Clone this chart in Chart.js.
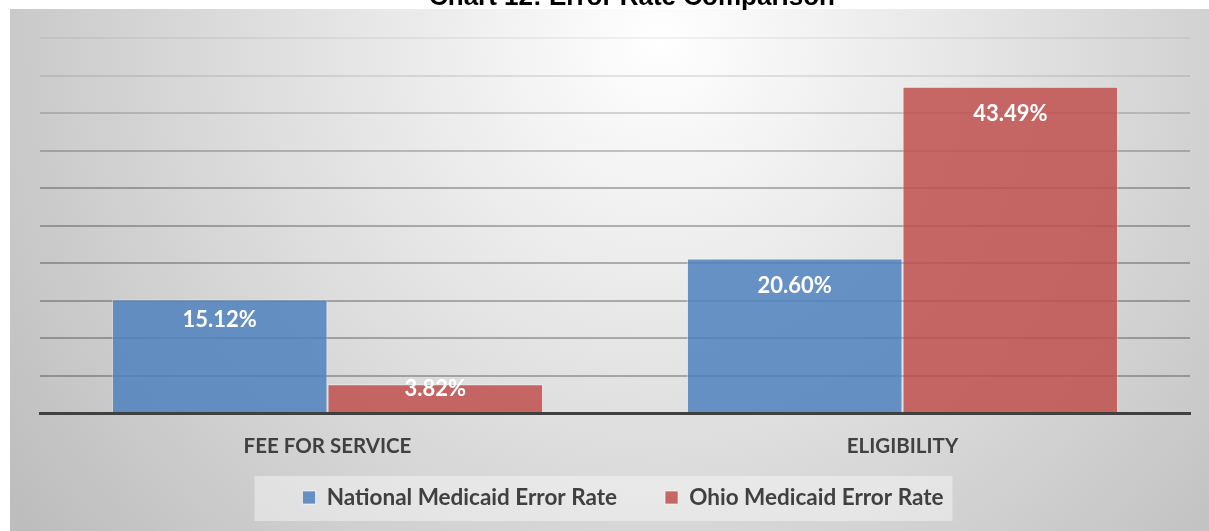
<!DOCTYPE html>
<html>
<head>
<meta charset="utf-8">
<script src="https://cdn.jsdelivr.net/npm/chart.js@4.4.1/dist/chart.umd.min.js"></script>
<style>
  html, body { margin: 0; padding: 0; background: #ffffff; overflow: hidden; }
  #wrap { position: relative; width: 1209px; height: 531px; }
  #title { position: absolute; left: 429px; top: -17px; font: bold 26px "Liberation Sans", Arial, sans-serif; line-height: 26px; color: #000; white-space: nowrap; z-index: 2; }
  canvas { position: absolute; left: 0; top: 0; }
</style>
</head>
<body>
<div id="wrap">
  <canvas id="c" width="1209" height="531"></canvas>
  <div id="title">Chart 12: Error Rate Comparison</div>
</div>
<script>
// ---- data ----
const categories = ["FEE FOR SERVICE", "ELIGIBILITY"];
const seriesNames = ["National Medicaid Error Rate", "Ohio Medicaid Error Rate"];
const nationalRates = [15.12, 20.60];
const ohioRates = [3.82, 43.49];
const axisMin = 0;
const axisMax = 50;
const axisStep = 5;

const FONT = "Lato, 'Open Sans', sans-serif";
const LEGEND_PAD = 48;
const LEGEND_FONT = 22.5;

const bgPlugin = {
  id: 'bg',
  afterLayout(chart) {
    const lg = chart.legend;
    if (!lg) return;
    const top = 497.5 - LEGEND_PAD - LEGEND_FONT / 2;
    const h = LEGEND_FONT + LEGEND_PAD + 10;
    lg.top = top; lg.height = h; lg.bottom = top + h;
    lg.left += 8; lg.right += 8;
  },
  beforeDraw(chart) {
    const ctx = chart.ctx;
    const W = chart.width, H = chart.height;
    ctx.save();
    ctx.fillStyle = '#ffffff';
    ctx.fillRect(0, 0, W, H);
    const g = ctx.createRadialGradient(660, 40, 0, 660, 40, 800);
    g.addColorStop(0, '#ffffff');
    g.addColorStop(1, '#bdbdbd');
    ctx.fillStyle = g;
    ctx.fillRect(10, 9, W - 10, H - 9);
    // legend panel
    const lg = chart.legend;
    if (lg && lg.legendHitBoxes && lg.legendHitBoxes.length) {
      const hb = lg.legendHitBoxes;
      const first = hb[0], last = hb[hb.length - 1];
      const left = first.left - 48;
      const right = last.left + last.width + 9;
      const cy = first.top + first.height / 2;
      ctx.fillStyle = 'rgba(255,255,255,0.4)';
      ctx.fillRect(left, cy - 21.5, right - left, 45);
    }
    ctx.restore();
  }
};

const labelPlugin = {
  id: 'barLabels',
  afterDatasetsDraw(chart) {
    const ctx = chart.ctx;
    ctx.save();
    ctx.fillStyle = '#ffffff';
    ctx.font = "bold 22px " + FONT;
    ctx.textAlign = 'center';
    ctx.textBaseline = 'middle';
    chart.data.datasets.forEach((ds, di) => {
      const meta = chart.getDatasetMeta(di);
      meta.data.forEach((bar, i) => {
        const h = bar.base - bar.y;
        const off = Math.min(27, h * 0.18);
        ctx.fillText(ds.data[i].toFixed(2) + '%', bar.x, bar.y + off);
      });
    });
    ctx.restore();
  }
};

function gridColor(ctx) {
  const v = ctx.tick ? ctx.tick.value : 0;
  if (v === 0) return 'rgba(0,0,0,0)';
  if (v >= 50) return 'rgba(0,0,0,0.05)';
  if (v >= 45) return 'rgba(0,0,0,0.09)';
  if (v >= 40) return 'rgba(0,0,0,0.15)';
  if (v >= 35) return 'rgba(0,0,0,0.21)';
  return 'rgba(0,0,0,0.27)';
}

new Chart(document.getElementById('c'), {
  type: 'bar',
  data: {
    labels: categories,
    datasets: [
      {
        label: seriesNames[0],
        data: nationalRates,
        backgroundColor: 'rgba(79,129,189,0.85)',
        borderColor: 'rgba(255,255,255,0.45)',
        borderWidth: 1
      },
      {
        label: seriesNames[1],
        data: ohioRates,
        backgroundColor: 'rgba(192,80,77,0.85)',
        borderColor: 'rgba(255,255,255,0.45)',
        borderWidth: 1
      }
    ]
  },
  options: {
    responsive: false,
    animation: false,
    devicePixelRatio: 1,
    layout: { padding: { left: 40, right: 19, top: 38, bottom: 10 } },
    datasets: { bar: { categoryPercentage: 0.75, barPercentage: 1.0 } },
    scales: {
      x: {
        grid: { display: false, drawTicks: false },
        border: { display: true, color: '#404040', width: 3 },
        ticks: { color: '#404040', font: { family: FONT, size: 20.5, weight: 'bold' }, padding: 21 },
        afterFit(s) { s.height = 63; }
      },
      y: {
        min: axisMin,
        max: axisMax,
        ticks: { display: false, stepSize: axisStep },
        border: { display: false },
        grid: { color: gridColor, lineWidth: 2, drawTicks: false },
        afterFit(s) { s.width = 0; }
      }
    },
    plugins: {
      title: { display: false },
      tooltip: { enabled: false },
      legend: {
        position: 'bottom',
        maxHeight: 45,
        labels: {
          boxWidth: 13,
          boxHeight: 13,
          padding: LEGEND_PAD,
          color: '#404040',
          font: { family: FONT, size: LEGEND_FONT, weight: 'bold' },
          generateLabels(chart) {
            return chart.data.datasets.map((ds, i) => ({
              text: ds.label,
              fillStyle: ds.backgroundColor,
              strokeStyle: 'rgba(255,255,255,0.6)',
              lineWidth: 1,
              fontColor: '#404040',
              hidden: false,
              datasetIndex: i
            }));
          }
        }
      }
    }
  },
  plugins: [bgPlugin, labelPlugin]
});
</script>
</body>
</html>
